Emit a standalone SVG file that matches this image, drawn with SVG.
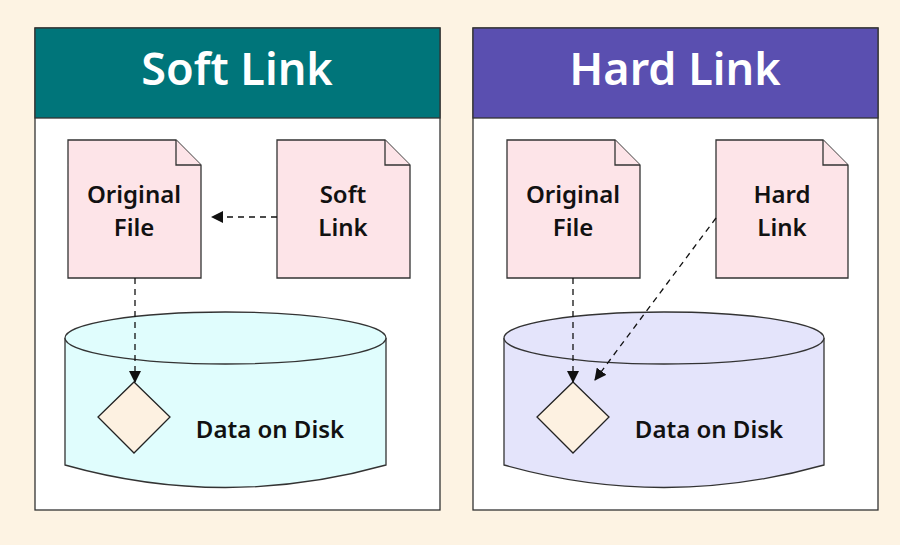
<svg xmlns="http://www.w3.org/2000/svg" width="900" height="545" viewBox="0 0 900 545">
<style>
text{font-family:"Noto Sans","Open Sans",sans-serif;font-weight:600;text-anchor:middle}
.t{font-size:45px;fill:#fff}
.l{font-size:24px;fill:#111}
.doc{fill:#fde4e8;stroke:#333;stroke-width:1.3}
.box{fill:#fff;stroke:#333;stroke-width:1.3}
.dia{fill:#fdf1e1;stroke:#222;stroke-width:1.3}
.c{stroke:#111;stroke-width:1.3;stroke-dasharray:6,5;fill:none;marker-end:url(#a)}
</style>
<defs><marker id="a" markerWidth="12" markerHeight="12" refX="11" refY="6" orient="auto" markerUnits="userSpaceOnUse"><path d="M0,0L12,6L0,12z" fill="#111"/></marker></defs>
<rect width="900" height="545" fill="#fdf3e3"/>
<g id="soft">
<rect class="box" x="35" y="28" width="405" height="482"/>
<rect x="35" y="28" width="405" height="90" fill="#00757a" stroke="#333" stroke-width="1.3"/>
<text class="t" x="237" y="85">Soft Link</text>
</g>
<g id="soft-cyl"><path d="M65,338 V465 Q225,510 386,465 V338" fill="#e0fdfd" stroke="#333" stroke-width="1.3"/><ellipse cx="225.5" cy="338" rx="160.5" ry="26" fill="#e0fdfd" stroke="#333" stroke-width="1.3"/><text class="l" x="270" y="438">Data on Disk</text></g>
<g id="soft-orig"><path class="doc" d="M68,140H176L201,165V278H68Z"/><path class="doc" d="M176,140V165H201"/><text class="l" x="134" y="203">Original</text><text class="l" x="134" y="236">File</text></g>
<g id="soft-link"><path class="doc" d="M277,140H385L410,165V278H277Z"/><path class="doc" d="M385,140V165H410"/><text class="l" x="343" y="203">Soft</text><text class="l" x="343" y="236">Link</text></g>
<g id="soft-data"><path class="dia" d="M134,382L170,417L134,453L98,417Z"/></g>
<g id="hard">
<rect class="box" x="473" y="28" width="405" height="482"/>
<rect x="473" y="28" width="405" height="90" fill="#5a4fb0" stroke="#333" stroke-width="1.3"/>
<text class="t" x="675" y="85">Hard Link</text>
</g>
<g id="hard-cyl"><path d="M504,338 V465 Q664,510 824,465 V338" fill="#e4e4fb" stroke="#333" stroke-width="1.3"/><ellipse cx="664" cy="338" rx="160" ry="26" fill="#e4e4fb" stroke="#333" stroke-width="1.3"/><text class="l" x="709" y="438">Data on Disk</text></g>
<g id="hard-orig"><path class="doc" d="M507,140H615L640,165V278H507Z"/><path class="doc" d="M615,140V165H640"/><text class="l" x="573" y="203">Original</text><text class="l" x="573" y="236">File</text></g>
<g id="hard-link"><path class="doc" d="M716,140H823L848,165V278H716Z"/><path class="doc" d="M823,140V165H848"/><text class="l" x="782" y="203">Hard</text><text class="l" x="782" y="236">Link</text></g>
<g id="hard-data"><path class="dia" d="M573,382L609,417L573,453L537,417Z"/></g>
<g id="connectors">
<path class="c" d="M277,217H212"/>
<path class="c" d="M135,278V382"/>
<path class="c" d="M573,278V382"/>
<path class="c" d="M716,218L595,380"/>
</g>
</svg>
